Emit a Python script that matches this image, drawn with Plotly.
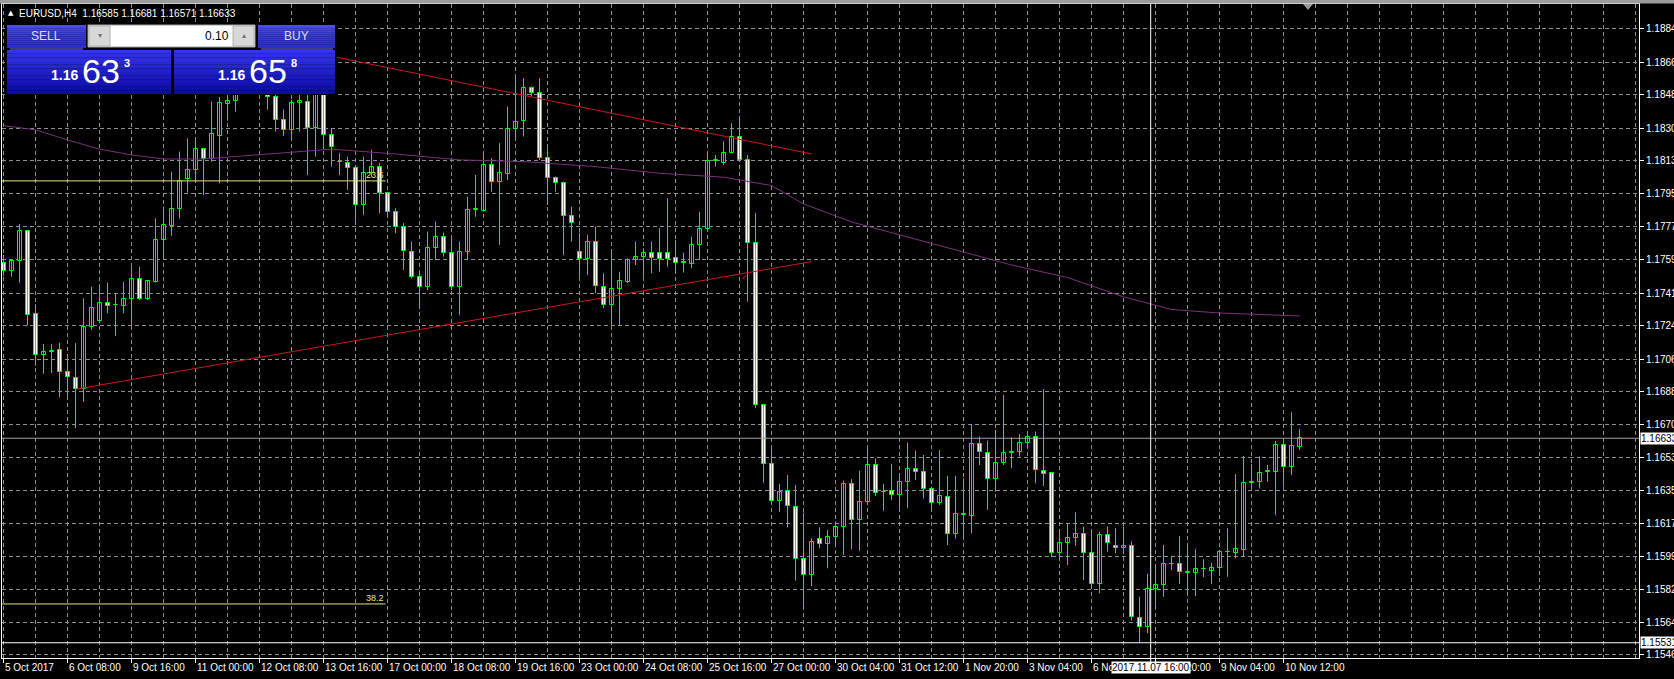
import plotly.graph_objects as go

# ---------------- data (EURUSD H4) ----------------
bar_index = list(range(163))
opens = [1.17576,1.17536,1.17587,1.17750,1.17303,1.17084,1.17100,1.17109,1.16992,1.16958,
         1.16897,1.17235,1.17267,1.17364,1.17352,1.17348,1.17384,1.17492,1.17384,1.17477,
         1.17702,1.17779,1.17869,1.18029,1.18079,1.18191,1.18138,1.18264,1.18433,1.18451,
         1.18564,1.18672,1.18618,1.18537,1.18474,1.18349,1.18295,1.18439,1.18447,1.18304,
         1.18483,1.18268,1.18124,1.18119,1.18088,1.17891,1.18065,1.18097,1.17954,1.17854,
         1.17774,1.17639,1.17504,1.17450,1.17657,1.17720,1.17630,1.17450,1.17639,1.17864,
         1.17860,1.18106,1.18016,1.18057,1.18299,1.18345,1.18520,1.18493,1.18142,1.18034,
         1.18007,1.17831,1.17639,1.17598,1.17693,1.17450,1.17352,1.17436,1.17477,1.17594,
         1.17612,1.17633,1.17633,1.17633,1.17603,1.17576,1.17572,1.17675,1.17760,1.18129,
         1.18115,1.18172,1.18255,1.18133,1.17684,1.16813,1.16495,1.16297,1.16351,1.16264,
         1.15981,1.15896,1.16089,1.16063,1.16099,1.16157,1.16385,1.16193,1.16291,1.16489,
         1.16345,1.16351,1.16327,1.16396,1.16466,1.16453,1.16358,1.16283,1.16315,1.16117,
         1.16221,1.16214,1.16602,1.16555,1.16412,1.16498,1.16555,1.16561,1.16606,1.16642,
         1.16458,1.16448,1.16016,1.16067,1.16094,1.16117,1.16016,1.15848,1.16112,1.16053,
         1.16040,1.16053,1.15663,1.15618,1.15819,1.15842,1.15956,1.15956,1.15905,1.15905,
         1.15927,1.15919,1.15932,1.16019,1.16013,1.16031,1.16394,1.16399,1.16453,1.16453,
         1.16597,1.16477,1.16585]
highs = [1.17621,1.17594,1.17788,1.17752,1.17355,1.17141,1.17141,1.17148,1.17064,1.17145,
         1.17388,1.17450,1.17450,1.17472,1.17415,1.17477,1.17555,1.17558,1.17486,1.17819,
         1.17881,1.18070,1.18178,1.18250,1.18241,1.18196,1.18447,1.18471,1.18485,1.18618,
         1.18753,1.18780,1.18699,1.18591,1.18483,1.18403,1.18456,1.18493,1.18493,1.18494,
         1.18494,1.18304,1.18169,1.18151,1.18097,1.18151,1.18187,1.18115,1.17962,1.17873,
         1.17792,1.17693,1.17522,1.17747,1.17800,1.17741,1.17711,1.17693,1.17935,1.18052,
         1.18160,1.18142,1.18223,1.18420,1.18582,1.18573,1.18528,1.18573,1.18196,1.18043,
         1.18016,1.17881,1.17740,1.17729,1.17774,1.17522,1.17639,1.17531,1.17603,1.17693,
         1.17657,1.17693,1.17765,1.17927,1.17702,1.17633,1.17720,1.17854,1.18160,1.18160,
         1.18232,1.18331,1.18363,1.18160,1.17847,1.16815,1.16579,1.16387,1.16435,1.16381,
         1.16232,1.16094,1.16153,1.16139,1.16184,1.16405,1.16412,1.16458,1.16579,1.16525,
         1.16387,1.16495,1.16426,1.16609,1.16566,1.16543,1.16372,1.16570,1.16430,1.16430,
         1.16417,1.16705,1.16642,1.16620,1.16678,1.16866,1.16638,1.16655,1.16656,1.16669,
         1.16897,1.16450,1.16139,1.16175,1.16234,1.16157,1.16135,1.16130,1.16157,1.16148,
         1.16157,1.16076,1.15779,1.15902,1.15938,1.16058,1.15999,1.16106,1.16063,1.16035,
         1.15981,1.15962,1.16031,1.16148,1.16441,1.16538,1.16495,1.16534,1.16489,1.16619,
         1.16615,1.16773,1.16681]
lows = [1.17508,1.17504,1.17472,1.17240,1.17023,1.16980,1.16985,1.16854,1.16857,1.16687,
        1.16830,1.17217,1.17253,1.17307,1.17184,1.17307,1.17244,1.17378,1.17378,1.17472,
        1.17612,1.17725,1.17819,1.17957,1.18025,1.17944,1.18124,1.18007,1.18345,1.18393,
        1.18510,1.18521,1.18500,1.18403,1.18286,1.18262,1.18241,1.18286,1.18052,1.18151,
        1.18187,1.18097,1.18052,1.17971,1.17795,1.17837,1.18043,1.17846,1.17827,1.17738,
        1.17540,1.17495,1.17342,1.17432,1.17594,1.17612,1.17432,1.17298,1.17594,1.17827,
        1.17854,1.17962,1.17675,1.18025,1.18250,1.18259,1.18474,1.18133,1.17891,1.17962,
        1.17621,1.17693,1.17504,1.17513,1.17415,1.17334,1.17244,1.17244,1.17469,1.17567,
        1.17504,1.17522,1.17531,1.17558,1.17522,1.17526,1.17549,1.17594,1.17756,1.18097,
        1.18106,1.18169,1.18124,1.17369,1.16795,1.16394,1.16279,1.16237,1.16153,1.15866,
        1.15725,1.15837,1.16040,1.15932,1.16046,1.16004,1.16035,1.16027,1.16274,1.16322,
        1.16243,1.16301,1.16243,1.16256,1.16408,1.16310,1.16247,1.16274,1.16058,1.16094,
        1.16085,1.16121,1.16489,1.16247,1.16345,1.16489,1.16471,1.16534,1.16588,1.16391,
        1.16376,1.15992,1.15981,1.15950,1.16053,1.15869,1.15825,1.15798,1.16022,1.16013,
        1.16009,1.15650,1.15531,1.15582,1.15725,1.15779,1.15923,1.15848,1.15783,1.15783,
        1.15884,1.15848,1.15891,1.15887,1.15986,1.15995,1.16364,1.16364,1.16399,1.16220,
        1.16372,1.16435,1.16571]
closes = [1.17536,1.17589,1.17750,1.17298,1.17084,1.17098,1.17104,1.16989,1.16962,1.16897,
          1.17235,1.17334,1.17364,1.17348,1.17350,1.17384,1.17492,1.17384,1.17481,1.17702,
          1.17783,1.17869,1.18022,1.18079,1.18191,1.18138,1.18273,1.18442,1.18451,1.18564,
          1.18672,1.18618,1.18537,1.18473,1.18349,1.18295,1.18442,1.18453,1.18304,1.18483,
          1.18268,1.18201,1.18122,1.18088,1.17891,1.18065,1.18097,1.17954,1.17854,1.17774,
          1.17644,1.17504,1.17450,1.17657,1.17720,1.17633,1.17450,1.17639,1.17864,1.17866,
          1.18106,1.18016,1.18061,1.18299,1.18340,1.18520,1.18493,1.18142,1.18034,1.18007,
          1.17831,1.17792,1.17598,1.17693,1.17454,1.17352,1.17436,1.17483,1.17594,1.17612,
          1.17633,1.17603,1.17598,1.17598,1.17576,1.17585,1.17675,1.17760,1.18129,1.18131,
          1.18169,1.18255,1.18133,1.17684,1.16813,1.16495,1.16297,1.16345,1.16268,1.15981,
          1.15896,1.16076,1.16063,1.16099,1.16157,1.16385,1.16193,1.16291,1.16489,1.16337,
          1.16343,1.16327,1.16396,1.16466,1.16450,1.16358,1.16283,1.16322,1.16117,1.16225,
          1.16223,1.16602,1.16561,1.16412,1.16498,1.16555,1.16557,1.16606,1.16642,1.16462,
          1.16441,1.16016,1.16070,1.16094,1.16117,1.16016,1.15848,1.16112,1.16070,1.16040,
          1.16053,1.15668,1.15618,1.15819,1.15842,1.15956,1.15958,1.15914,1.15914,1.15927,
          1.15929,1.15932,1.16022,1.16021,1.16035,1.16394,1.16399,1.16448,1.16455,1.16597,
          1.16477,1.16592,1.16633]

ma_index = [0, 4, 8, 12, 16, 20, 25, 29, 37, 41, 49, 57, 65, 74, 82, 90, 96, 100, 106, 113, 120, 126, 133, 140, 146, 152, 162]
ma_values = [1.18318, 1.18295, 1.18241, 1.18191, 1.18160, 1.18138, 1.18138, 1.18151, 1.18178, 1.18191,
             1.18165, 1.18133, 1.18124, 1.18097, 1.18061, 1.18040, 1.17995, 1.17896, 1.17799, 1.17718,
             1.17637, 1.17567, 1.17499, 1.17395, 1.17327, 1.17308, 1.17292]

trend_upper_idx = [31, 101]
trend_upper_px = [1.18780, 1.18165]
trend_lower_idx = [9, 101]
trend_lower_px = [1.16897, 1.17585]

fibo_levels = [1.18020, 1.15740]
fibo_texts = ["23.6", "38.2"]
fibo_end_idx = 47.75

y_tick_vals = [1.18840, 1.18660, 1.18485, 1.18305, 1.18130, 1.17950, 1.17775, 1.17595, 1.17415, 1.17240,
               1.17060, 1.16885, 1.16705, 1.16530, 1.16350, 1.16175, 1.15995, 1.15820, 1.15640, 1.15465]
x_tick_idx = list(range(0, 161, 8))
x_tick_labels = ["5 Oct 2017", "6 Oct 08:00", "9 Oct 16:00", "11 Oct 00:00", "12 Oct 08:00", "13 Oct 16:00",
                 "17 Oct 00:00", "18 Oct 08:00", "19 Oct 16:00", "23 Oct 00:00", "24 Oct 08:00", "25 Oct 16:00",
                 "27 Oct 00:00", "30 Oct 04:00", "31 Oct 12:00", "1 Nov 20:00", "3 Nov 04:00", "6 Nov 12:00",
                 "7 Nov 20:00", "9 Nov 04:00", "10 Nov 12:00"]

bid_price = 1.16633
ask_price = 1.16658
cross_idx = 143.4
cross_price = 1.15531
cross_time = "2017.11.07 16:00"
header = "EURUSD,H4  1.16585 1.16681 1.16571 1.16633"
lot = "0.10"

# ---------------- geometry helpers ----------------
W, H = 1674, 679
ML, MR, MT, MB = 2, 35, 4, 21
PW, PH = W - ML - MR, H - MT - MB
def fx(px):
    return (px - ML) / PW
def fy(py):
    return (H - MB - py) / PH

FONT = "Liberation Sans, Arial, sans-serif"
GREEN = "#00ff00"
GRID = "#8a8f96"

fig = go.Figure()

# wicks
wx, wy = [], []
for i, hi, lo in zip(bar_index, highs, lows):
    wx += [i, i, None]
    wy += [lo, hi, None]
fig.add_trace(go.Scatter(x=wx, y=wy, mode="lines", line=dict(color=GREEN, width=1),
                         hoverinfo="skip", showlegend=False))

# bodies
base = [min(o, c) for o, c in zip(opens, closes)]
height = [max(abs(c - o), 0.00001) for o, c in zip(opens, closes)]
fills = ["#000000" if c >= o else "#f4fff4" for o, c in zip(opens, closes)]
fig.add_trace(go.Bar(x=bar_index, y=height, base=base, width=0.5,
                     marker=dict(color=fills, line=dict(color=GREEN, width=1)),
                     hoverinfo="skip", showlegend=False))

# moving average
fig.add_trace(go.Scatter(x=ma_index, y=ma_values, mode="lines",
                         line=dict(color="#7d2f7d", width=1), hoverinfo="skip", showlegend=False))
# trend lines
for xs, ys in [(trend_upper_idx, trend_upper_px), (trend_lower_idx, trend_lower_px)]:
    fig.add_trace(go.Scatter(x=xs, y=ys, mode="lines", line=dict(color="#d01818", width=1),
                             hoverinfo="skip", showlegend=False))
# fibo levels
for lv, tx in zip(fibo_levels, fibo_texts):
    fig.add_trace(go.Scatter(x=[-1, fibo_end_idx], y=[lv, lv], mode="lines",
                             line=dict(color="#e6e67a", width=1), hoverinfo="skip", showlegend=False))
    fig.add_annotation(x=fibo_end_idx, y=lv, text=tx, showarrow=False, xanchor="right", yanchor="bottom",
                       font=dict(family=FONT, size=9, color="#e6e67a"), yshift=-1)

shapes = []
# bid line and crosshair
shapes.append(dict(type="line", xref="paper", yref="y", x0=0, x1=1, y0=bid_price, y1=bid_price,
                   line=dict(color="#a0a0a0", width=1), layer="above"))
shapes.append(dict(type="line", xref="paper", yref="y", x0=0, x1=1, y0=cross_price, y1=cross_price,
                   line=dict(color="#ffffff", width=1), layer="above"))
shapes.append(dict(type="line", xref="x", yref="paper", x0=cross_idx, x1=cross_idx, y0=fy(662), y1=1,
                   line=dict(color="#ffffff", width=1), layer="above"))
# red check mark
fig.add_annotation(x=92.6, y=1.17500, text="✓", showarrow=False,
                   font=dict(family="DejaVu Sans", size=8, color="#e02020"))
# chart shift triangle
shapes.append(dict(type="path", xref="paper", yref="paper",
                   path=f"M {fx(1303)} {fy(4)} L {fx(1313)} {fy(4)} L {fx(1308)} {fy(10)} Z",
                   fillcolor="#9a9a9a", line=dict(width=0)))
# top grey strip
shapes.append(dict(type="rect", xref="paper", yref="paper", x0=fx(0), x1=fx(W), y0=fy(3.5), y1=fy(0),
                   fillcolor="#9c9c9c", line=dict(width=0)))

# ---------------- one-click trading panel ----------------
def gradient(x0, x1, y0, y1, c_top, c_bot, n=12):
    def hx(c):
        return [int(c[k:k + 2], 16) for k in (1, 3, 5)]
    a, b = hx(c_top), hx(c_bot)
    step = (y1 - y0) / n
    for k in range(n):
        t = k / (n - 1)
        col = "#%02x%02x%02x" % tuple(int(a[j] + (b[j] - a[j]) * t) for j in range(3))
        shapes.append(dict(type="rect", xref="paper", yref="paper", x0=fx(x0), x1=fx(x1),
                           y0=fy(y0 + step * (k + 1)), y1=fy(y0 + step * k),
                           fillcolor=col, line=dict(width=0), layer="above"))

shapes.append(dict(type="rect", xref="paper", yref="paper", x0=fx(5), x1=fx(337), y0=fy(95), y1=fy(22),
                   fillcolor="#000000", line=dict(width=0), layer="above"))
gradient(7, 86, 25, 48, "#4b4bf5", "#2a2ad8")
gradient(258, 335, 25, 48, "#4b4bf5", "#2a2ad8")
gradient(7, 171, 50, 94, "#3434ea", "#0c0ca6")
gradient(174, 335, 50, 94, "#3434ea", "#0c0ca6")
for x0, x1 in [(10, 83), (261, 333)]:
    shapes.append(dict(type="line", xref="paper", yref="paper", x0=fx(x0), x1=fx(x1), y0=fy(49), y1=fy(49),
                       line=dict(color="#7c7cff", width=1), layer="above"))
# lot box
shapes.append(dict(type="rect", xref="paper", yref="paper", x0=fx(88), x1=fx(255), y0=fy(47), y1=fy(25),
                   fillcolor="#ffffff", line=dict(color="#a0a0a0", width=1), layer="above"))
for x0, x1 in [(89, 110), (233, 254)]:
    shapes.append(dict(type="rect", xref="paper", yref="paper", x0=fx(x0), x1=fx(x1), y0=fy(46), y1=fy(26),
                       fillcolor="#d8d8d8", line=dict(color="#b0b0b0", width=1), layer="above"))

def txt(px, py, s, size, color="#ffffff", xanchor="center", bold=False, family=FONT):
    fig.add_annotation(xref="paper", yref="paper", x=fx(px), y=fy(py), text=f"<b>{s}</b>" if bold else s,
                       showarrow=False, xanchor=xanchor, yanchor="middle",
                       font=dict(family=family, size=size, color=color))

txt(46, 36, "SELL", 12, "#dcdcff")
txt(296, 36, "BUY", 12, "#dcdcff")
txt(231, 36, lot, 12, "#000000", xanchor="right")
txt(99.5, 36, "▾", 8, "#707070", family="DejaVu Sans")
txt(243.5, 36, "▴", 8, "#707070", family="DejaVu Sans")
sell_txt = f"{bid_price:.5f}"
buy_txt = f"{ask_price:.5f}"
for s, xb in [(sell_txt, 49), (buy_txt, 216)]:
    txt(xb, 75, s[:4], 14, xanchor="left", bold=True)
    txt(xb + 31, 71, s[4:6], 34, xanchor="left")
    txt(xb + 73, 63, s[6], 11, xanchor="left", bold=True)

# header
txt(6, 13, "▲", 7, xanchor="left", family="DejaVu Sans")
txt(17, 13, header, 10, xanchor="left")

# x labels (left aligned at tick)
for i, lab in zip(x_tick_idx, x_tick_labels):
    fig.add_annotation(x=i, xref="x", yref="paper", y=0, yshift=-9, text=lab, showarrow=False,
                       xanchor="left", yanchor="middle", xshift=-1,
                       font=dict(family=FONT, size=10, color="#ffffff"))
# crosshair labels
fig.add_annotation(x=cross_idx, xref="x", yref="paper", y=0, yshift=-9, text=cross_time, showarrow=False,
                   xanchor="center", yanchor="middle", bgcolor="#ffffff", borderpad=0,
                   font=dict(family=FONT, size=10, color="#000000"))
for p in [bid_price, cross_price]:
    fig.add_annotation(xref="paper", x=1, y=p, yref="y", text=f"{p:.5f}", showarrow=False, xshift=1,
                       xanchor="left", yanchor="middle", bgcolor="#ffffff", borderpad=0,
                       font=dict(family=FONT, size=10, color="#000000"))

fig.update_layout(
    width=W, height=H, margin=dict(l=ML, r=MR, t=MT, b=MB, autoexpand=False),
    paper_bgcolor="#000000", plot_bgcolor="#000000",
    showlegend=False, hovermode=False, barmode="overlay", bargap=0,
    shapes=shapes, font=dict(family=FONT, size=10, color="#ffffff"),
    xaxis=dict(range=[-0.1875, -0.1875 + PW / 8], tickmode="array", tickvals=x_tick_idx,
               ticktext=["" for _ in x_tick_idx], showticklabels=False, automargin=False,
               ticks="outside", ticklen=4, tickcolor="#ffffff",
               showgrid=True, gridcolor=GRID, griddash="4px,3px", gridwidth=1,
               minor=dict(dtick=4, tick0=0, showgrid=True, gridcolor=GRID, griddash="4px,3px", ticks=""),
               showline=True, linecolor="#ffffff", linewidth=1, mirror=True, zeroline=False, fixedrange=True),
    yaxis=dict(range=[1.154488, 1.154488 + PH / 18556], side="right", tickmode="array",
               tickvals=y_tick_vals, ticktext=[f"{v:.5f}" for v in y_tick_vals], automargin=False,
               ticks="outside", ticklen=4, tickcolor="#ffffff",
               tickfont=dict(family=FONT, size=10, color="#ffffff"),
               showgrid=True, gridcolor=GRID, griddash="4px,3px", gridwidth=1,
               showline=True, linecolor="#ffffff", linewidth=1, mirror=True, zeroline=False, fixedrange=True),
)

fig.write_html("out.html", config={"displayModeBar": False, "staticPlot": False},
               post_script="document.body.style.margin='0';document.body.style.overflow='hidden';")
